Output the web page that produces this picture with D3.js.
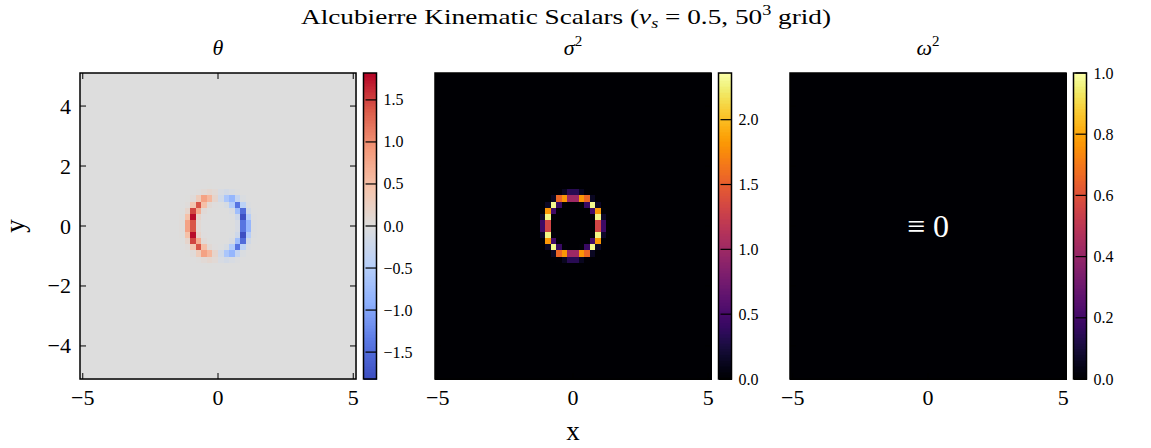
<!DOCTYPE html>
<html>
<head>
<meta charset="utf-8">
<script src="https://cdn.jsdelivr.net/npm/d3@7"></script>
<style>
  body { margin: 0; background: #fff; }
  svg { display: block; font-family: "Liberation Serif", "DejaVu Serif", serif; }
</style>
</head>
<body>
<svg id="chart" width="1151" height="448"></svg>
<script>
const N = 50;                 // grid cells per axis
const ringStart = 18;         // grid index of the first row/column of the ring blocks

const xTicks = [-5, 0, 5];
const yTicks = [-4, -2, 0, 2, 4];
const thetaTicks = [-1.5, -1.0, -0.5, 0.0, 0.5, 1.0, 1.5];
const sigmaTicks = [0.0, 0.5, 1.0, 1.5, 2.0];
const omegaTicks = [0.0, 0.2, 0.4, 0.6, 0.8, 1.0];
const thetaRange = [-1.82, 1.82];
const sigmaRange = [0, 2.36];
const omegaRange = [0, 1];

// expansion theta, rows 18..31 (top to bottom), columns 18..31
const thetaRing = [
  [0, 0, 0, 0.001, 0.003, 0.006, 0.003, -0.003, -0.006, -0.003, -0.001, 0, 0, 0],
  [0, 0, 0.004, 0.022, 0.076, 0.134, 0.075, -0.075, -0.134, -0.076, -0.022, -0.004, 0, 0],
  [0, 0.005, 0.047, 0.313, 0.828, 0.593, 0.156, -0.156, -0.593, -0.828, -0.313, -0.047, -0.005, 0],
  [0.002, 0.034, 0.402, 1.405, 0.505, 0.084, 0.013, -0.013, -0.084, -0.505, -1.405, -0.402, -0.034, -0.002],
  [0.009, 0.168, 1.490, 0.708, 0.064, 0.006, 0.001, -0.001, -0.006, -0.064, -0.708, -1.490, -0.168, -0.009],
  [0.024, 0.492, 1.778, 0.197, 0.011, 0, 0, 0, 0, -0.011, -0.197, -1.778, -0.492, -0.024],
  [0.040, 0.820, 1.401, 0.090, 0.004, 0, 0, 0, 0, -0.004, -0.090, -1.401, -0.820, -0.040],
  [0.040, 0.820, 1.401, 0.090, 0.004, 0, 0, 0, 0, -0.004, -0.090, -1.401, -0.820, -0.040],
  [0.024, 0.492, 1.778, 0.197, 0.011, 0, 0, 0, 0, -0.011, -0.197, -1.778, -0.492, -0.024],
  [0.009, 0.168, 1.490, 0.708, 0.064, 0.006, 0.001, -0.001, -0.006, -0.064, -0.708, -1.490, -0.168, -0.009],
  [0.002, 0.034, 0.402, 1.405, 0.505, 0.084, 0.013, -0.013, -0.084, -0.505, -1.405, -0.402, -0.034, -0.002],
  [0, 0.005, 0.047, 0.313, 0.828, 0.593, 0.156, -0.156, -0.593, -0.828, -0.313, -0.047, -0.005, 0],
  [0, 0, 0.004, 0.022, 0.076, 0.134, 0.075, -0.075, -0.134, -0.076, -0.022, -0.004, 0, 0],
  [0, 0, 0, 0.001, 0.003, 0.006, 0.003, -0.003, -0.006, -0.003, -0.001, 0, 0, 0]
];

// shear sigma^2, same block
const sigmaRing = [
  [0, 0, 0, 0, 0, 0, 0.001, 0.001, 0, 0, 0, 0, 0, 0],
  [0, 0, 0, 0.001, 0.018, 0.133, 0.340, 0.340, 0.133, 0.018, 0.001, 0, 0, 0],
  [0, 0, 0.003, 0.146, 1.567, 1.815, 0.998, 0.998, 1.815, 1.567, 0.146, 0.003, 0, 0],
  [0, 0.001, 0.157, 2.303, 0.421, 0.024, 0.004, 0.004, 0.024, 0.421, 2.303, 0.157, 0.001, 0],
  [0, 0.022, 1.823, 0.462, 0.005, 0, 0, 0, 0, 0.005, 0.462, 1.823, 0.022, 0],
  [0, 0.170, 2.283, 0.029, 0, 0, 0, 0, 0, 0, 0.029, 2.283, 0.170, 0],
  [0.001, 0.451, 1.321, 0.006, 0, 0, 0, 0, 0, 0, 0.006, 1.321, 0.451, 0.001],
  [0.001, 0.451, 1.321, 0.006, 0, 0, 0, 0, 0, 0, 0.006, 1.321, 0.451, 0.001],
  [0, 0.170, 2.283, 0.029, 0, 0, 0, 0, 0, 0, 0.029, 2.283, 0.170, 0],
  [0, 0.022, 1.823, 0.462, 0.005, 0, 0, 0, 0, 0.005, 0.462, 1.823, 0.022, 0],
  [0, 0.001, 0.157, 2.303, 0.421, 0.024, 0.004, 0.004, 0.024, 0.421, 2.303, 0.157, 0.001, 0],
  [0, 0, 0.003, 0.146, 1.567, 1.815, 0.998, 0.998, 1.815, 1.567, 0.146, 0.003, 0, 0],
  [0, 0, 0, 0.001, 0.018, 0.133, 0.340, 0.340, 0.133, 0.018, 0.001, 0, 0, 0],
  [0, 0, 0, 0, 0, 0, 0.001, 0.001, 0, 0, 0, 0, 0, 0]
];

const svg = d3.select("#chart");

const plotTop = 73, ph = 306, pw = 276;
const lefts = [80, 435, 790];
const cbGap = 7.5, cbW = 13;

const half = 5 / (N - 1);
const centers = d3.range(N).map(i => -5 + i * 10 / (N - 1));

// coolwarm approximation
const coolwarm = d3.scaleLinear()
  .domain(d3.range(9).map(k => k / 8))
  .range(["#3b4cc0", "#5a78e4", "#8db0fe", "#b8d0f9", "#dddddd", "#f5c4ac", "#f49a7b", "#dc5d4a", "#b40426"])
  .clamp(true);

function cells(block) {
  const out = [];
  for (let j = 0; j < N; j++) {
    for (let i = 0; i < N; i++) {
      let v = 0;
      if (block) {
        const r = j - ringStart, c = i - ringStart;
        if (r >= 0 && r < block.length && c >= 0 && c < block[0].length) v = block[r][c];
      }
      out.push({ x: centers[i], y: centers[N - 1 - j], v });
    }
  }
  return out;
}

const minus = t => t < 0 ? "\u2212" + Math.abs(t) : String(t);

function panel(k, block, range, ticks, interp, titleParts, showY) {
  const x0 = lefts[k];
  const xScale = d3.scaleLinear().domain([-5 - half, 5 + half]).range([x0, x0 + pw]);
  const yScale = d3.scaleLinear().domain([-5 - half, 5 + half]).range([plotTop + ph, plotTop]);
  const cScale = d3.scaleLinear().domain(range).range([0, 1]).clamp(true);
  const g = svg.append("g");

  g.append("g").attr("shape-rendering", "crispEdges")
    .selectAll("rect")
    .data(cells(block))
    .enter()
    .append("rect")
    .attr("x", d => xScale(d.x - half))
    .attr("y", d => yScale(d.y + half))
    .attr("width", xScale(half) - xScale(-half) + 0.6)
    .attr("height", yScale(-half) - yScale(half) + 0.6)
    .attr("fill", d => interp(cScale(d.v)));

  // ticks pointing inward on all four sides
  const tl = 6;
  xTicks.forEach(t => {
    const px = xScale(t);
    g.append("line").attr("x1", px).attr("x2", px).attr("y1", plotTop + ph).attr("y2", plotTop + ph - tl).attr("stroke", "#000");
    g.append("line").attr("x1", px).attr("x2", px).attr("y1", plotTop).attr("y2", plotTop + tl).attr("stroke", "#000");
    g.append("text").attr("x", px).attr("y", plotTop + ph + 26)
      .attr("text-anchor", "middle").attr("font-size", 22)
      .text(minus(t));
  });
  yTicks.forEach(t => {
    const py = yScale(t);
    g.append("line").attr("x1", x0).attr("x2", x0 + tl).attr("y1", py).attr("y2", py).attr("stroke", "#000");
    g.append("line").attr("x1", x0 + pw).attr("x2", x0 + pw - tl).attr("y1", py).attr("y2", py).attr("stroke", "#000");
    if (showY) {
      g.append("text").attr("x", x0 - 9).attr("y", py + 7.5)
        .attr("text-anchor", "end").attr("font-size", 22)
        .text(minus(t));
    }
  });

  g.append("rect")
    .attr("x", x0).attr("y", plotTop).attr("width", pw).attr("height", ph)
    .attr("fill", "none").attr("stroke", "#000").attr("stroke-width", 1.5);

  // subplot title
  const tt = g.append("text").attr("x", x0 + pw / 2).attr("y", plotTop - 18)
    .attr("text-anchor", "middle").attr("font-size", 22);
  tt.append("tspan").attr("font-style", "italic").text(titleParts[0]);
  if (titleParts[1]) tt.append("tspan").attr("font-size", 15).attr("dy", -9).text(titleParts[1]);

  // colorbar
  const cx = x0 + pw + cbGap;
  const cbScale = d3.scaleLinear().domain(range).range([plotTop + ph, plotTop]);
  const steps = d3.range(0, 200);
  g.append("g").attr("shape-rendering", "crispEdges")
    .selectAll("rect")
    .data(steps)
    .enter()
    .append("rect")
    .attr("x", cx)
    .attr("y", s => plotTop + ph - (s + 1) * ph / 200)
    .attr("width", cbW)
    .attr("height", ph / 200 + 0.6)
    .attr("fill", s => interp((s + 0.5) / 200));
  ticks.forEach(t => {
    const py = cbScale(t);
    g.append("line").attr("x1", cx + cbW).attr("x2", cx + 2).attr("y1", py).attr("y2", py)
      .attr("stroke", "#000").attr("stroke-width", 1.2);
    g.append("text").attr("x", cx + cbW + 7).attr("y", py + 5.5)
      .attr("font-size", 16)
      .text(d3.format(".1f")(t));
  });
  g.append("rect")
    .attr("x", cx).attr("y", plotTop).attr("width", cbW).attr("height", ph)
    .attr("fill", "none").attr("stroke", "#000").attr("stroke-width", 1.5);
  return g;
}

panel(0, thetaRing, thetaRange, thetaTicks, coolwarm, ["\u03b8", null], true);
panel(1, sigmaRing, sigmaRange, sigmaTicks, d3.interpolateInferno, ["\u03c3", "2"], false);
const g3 = panel(2, null, omegaRange, omegaTicks, d3.interpolateInferno, ["\u03c9", "2"], false);

g3.append("text")
  .attr("x", lefts[2] + pw / 2).attr("y", plotTop + ph / 2 + 11)
  .attr("text-anchor", "middle").attr("font-size", 32).attr("fill", "#fff")
  .text("\u2261 0");

// figure title
const title = svg.append("text").attr("x", 566).attr("y", 24)
  .attr("text-anchor", "middle").attr("font-size", 21)
  .attr("textLength", 530).attr("lengthAdjust", "spacingAndGlyphs");
title.append("tspan").text("Alcubierre Kinematic Scalars (");
title.append("tspan").attr("font-style", "italic").text("v");
title.append("tspan").attr("font-size", 14).attr("font-style", "italic").attr("dy", 4).text("s");
title.append("tspan").attr("dy", -4).text(" = 0.5, 50");
title.append("tspan").attr("font-size", 14).attr("dy", -9).text("3");
title.append("tspan").attr("dy", 9).text(" grid)");

// axis labels
svg.append("text").attr("x", 573).attr("y", 440)
  .attr("text-anchor", "middle").attr("font-size", 27).text("x");
svg.append("text").attr("transform", "translate(24,226) rotate(-90)")
  .attr("text-anchor", "middle").attr("font-size", 27).text("y");
</script>
</body>
</html>
